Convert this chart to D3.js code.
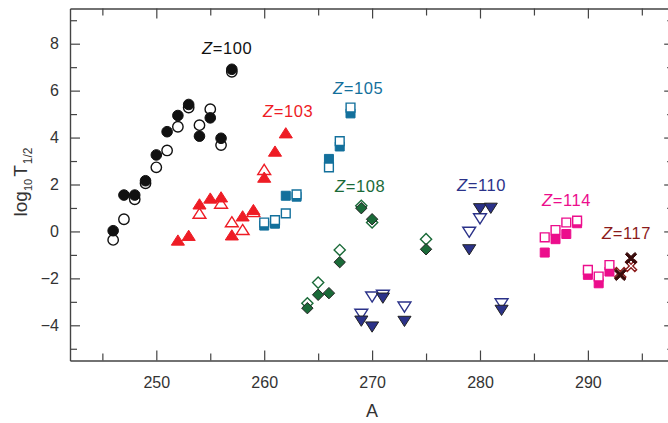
<!DOCTYPE html>
<html>
<head>
<meta charset="utf-8">
<script src="https://cdn.jsdelivr.net/npm/d3@7"></script>
<style>
  body { margin: 0; background: #fff; }
  text { font-family: "Liberation Sans", Arial, sans-serif; fill: #333; }
</style>
</head>
<body>
<svg id="chart" width="668" height="423"></svg>
<script>
// data: [A, log10 T1/2]
var z100Filled = [[246,0.03],[247,1.55],[248,1.55],[249,2.16],[250,3.26],[251,4.25],[252,4.94],[253,5.41],[254,4.06],[255,4.84],[256,3.97],[257,6.91]];
var z100Open = [[246,-0.36],[247,0.52],[248,1.37],[249,2.05],[250,2.73],[251,3.45],[252,4.46],[253,5.28],[254,4.53],[255,5.21],[256,3.68],[257,6.80]];

var z103Filled = [[252,-0.39],[253,-0.19],[254,1.15],[255,1.40],[256,1.45],[257,-0.17],[258,0.64],[259,0.91],[260,2.29],[261,3.40],[262,4.18]];
var z103Open = [[254,0.75],[256,1.18],[257,0.39],[258,0.06],[259,0.82],[260,2.62]];

var z105Filled = [[260,0.25],[261,0.33],[262,1.52],[263,1.48],[266,3.09],[267,3.62],[268,5.03]];
var z105Open = [[260,0.38],[261,0.48],[262,0.77],[263,1.58],[266,2.73],[267,3.85],[268,5.28]];

var z108Filled = [[264,-3.27],[265,-2.70],[266,-2.63],[267,-1.31],[269,0.99],[270,0.52],[275,-0.76]];
var z108Open = [[264,-3.06],[265,-2.18],[267,-0.79],[269,1.09],[270,0.38],[275,-0.33]];

var z110Filled = [[269,-3.80],[270,-4.05],[271,-2.82],[273,-3.81],[279,-0.76],[280,0.99],[281,1.01],[282,-3.34]];
var z110Open = [[269,-3.51],[270,-2.77],[271,-2.70],[273,-3.20],[279,-0.01],[280,0.56],[282,-3.06]];

var z114Filled = [[286,-0.90],[287,-0.33],[288,-0.11],[289,0.35],[290,-1.85],[291,-2.21],[292,-1.71]];
var z114Open = [[286,-0.25],[287,0.06],[288,0.38],[289,0.46],[290,-1.64],[291,-1.92],[292,-1.43]];

var z117Filled = [[293,-1.85],[294,-1.14]];
var z117Open = [[293,-1.78],[294,-1.47]];

var xMajor = [250, 260, 270, 280, 290];
var xMinor = [245, 255, 265, 275, 285, 295];
var yMajor = [-4, -2, 0, 2, 4, 6, 8];
var yMinor = [-5, -3, -1, 1, 3, 5, 7, 9];

var svg = d3.select("#chart");

var x = d3.scaleLinear().domain([242, 298]).range([70, 674.2]);
var y = d3.scaleLinear().domain([-5.5, 9.5]).range([360.5, 8.5]);

// frame with inward ticks on all four sides
function addAxis(axis, tx, ty, labels) {
    var g = svg.append("g")
        .attr("transform", "translate(" + tx + "," + ty + ")")
        .call(axis);
    g.selectAll("path, line").attr("stroke", "#444").attr("stroke-width", 1.2);
    g.selectAll("text").style("font-size", "16px").attr("fill", "#333");
    if (!labels) g.selectAll("text").remove();
    return g;
}
addAxis(d3.axisBottom(x).tickValues(xMajor).tickSize(-10).tickSizeOuter(0).tickPadding(16).tickFormat(d3.format("d")), 0, y(-5.5), true);
addAxis(d3.axisBottom(x).tickValues(xMinor).tickSize(-7).tickSizeOuter(0), 0, y(-5.5), false);
addAxis(d3.axisTop(x).tickValues(xMajor).tickSize(-10).tickSizeOuter(0), 0, y(9.5), false);
addAxis(d3.axisTop(x).tickValues(xMinor).tickSize(-7).tickSizeOuter(0), 0, y(9.5), false);
addAxis(d3.axisLeft(y).tickValues(yMajor).tickSize(-10).tickSizeOuter(0).tickPadding(11), x(242), 0, true);
addAxis(d3.axisLeft(y).tickValues(yMinor).tickSize(-7).tickSizeOuter(0), x(242), 0, false);
addAxis(d3.axisRight(y).tickValues(yMajor).tickSize(-10).tickSizeOuter(0), x(298), 0, false);
addAxis(d3.axisRight(y).tickValues(yMinor).tickSize(-7).tickSizeOuter(0), x(298), 0, false);

// axis titles
svg.append("text")
    .attr("x", x(270)).attr("y", 417)
    .attr("text-anchor", "middle")
    .style("font-size", "18px")
    .text("A");

var ylab = svg.append("text")
    .attr("transform", "translate(27,182) rotate(-90)")
    .attr("text-anchor", "middle")
    .style("font-size", "19px");
ylab.append("tspan").text("log");
ylab.append("tspan").attr("dy", 5).style("font-size", "11px").text("10");
ylab.append("tspan").attr("dy", -5).attr("dx", 2).text("T");
ylab.append("tspan").attr("dy", 5).attr("dx", 1).style("font-size", "12px").text("1/2");

// marker shapes
function circlePath(s) { return d3.symbol(d3.symbolCircle, Math.PI * s * s)(); }
function squarePath(s) { return "M" + -s + "," + -s + "H" + s + "V" + s + "H" + -s + "Z"; }
function triUp(s) { return "M0," + (-s) + "L" + (s * 1.15) + "," + (s * 0.8) + "L" + (-s * 1.15) + "," + (s * 0.8) + "Z"; }
function triDown(s) { return "M0," + s + "L" + (s * 1.15) + "," + (-s * 0.8) + "L" + (-s * 1.15) + "," + (-s * 0.8) + "Z"; }
function diamond(s) { return "M0," + (-s) + "L" + s + ",0L0," + s + "L" + (-s) + ",0Z"; }
function cross(s) {
    var w = s * 0.32;
    return "M" + (-s) + "," + (-s + w) + "L" + (-s + w) + "," + (-s) + "L0," + (-w) + "L" + (s - w) + "," + (-s) +
        "L" + s + "," + (-s + w) + "L" + w + ",0L" + s + "," + (s - w) + "L" + (s - w) + "," + s +
        "L0," + w + "L" + (-s + w) + "," + s + "L" + (-s) + "," + (s - w) + "L" + (-w) + ",0Z";
}

var series = [
    {filled: z100Filled, open: z100Open, shape: circlePath, size: 5.8, color: "#111", edge: "#111", openOnTop: false},
    {filled: z103Filled, open: z103Open, shape: triUp, size: 6.2, color: "#ee1c25", edge: "#ee1c25", openOnTop: false},
    {filled: z105Filled, open: z105Open, shape: squarePath, size: 5, color: "#13709c", edge: "#13709c", openOnTop: true},
    {filled: z108Filled, open: z108Open, shape: diamond, size: 6.2, color: "#1a6a38", edge: "#222", openColor: "#1a6a38", openOnTop: false},
    {filled: z110Filled, open: z110Open, shape: triDown, size: 6.2, color: "#2b3289", edge: "#222", openColor: "#2b3289", openOnTop: false},
    {filled: z114Filled, open: z114Open, shape: squarePath, size: 5, color: "#ec0d8c", edge: "#ec0d8c", openOnTop: true},
    {filled: z117Filled, open: z117Open, shape: cross, size: 6.2, color: "#3a0c0c", edge: "#3a0c0c", openColor: "#8b1b1b", openOnTop: false}
];

function drawOpen(s) {
    svg.append("g").selectAll("path")
        .data(s.open).enter().append("path")
        .attr("transform", function(d) { return "translate(" + x(d[0]) + "," + y(d[1]) + ")"; })
        .attr("d", s.shape(s.size - 0.6))
        .attr("fill", "#fff")
        .attr("stroke", s.openColor || s.color)
        .attr("stroke-width", 1.4);
}
function drawFilled(s) {
    svg.append("g").selectAll("path")
        .data(s.filled).enter().append("path")
        .attr("transform", function(d) { return "translate(" + x(d[0]) + "," + y(d[1]) + ")"; })
        .attr("d", s.shape(s.size - 0.5))
        .attr("fill", s.color)
        .attr("stroke", s.edge)
        .attr("stroke-width", 1);
}
series.forEach(function(s) {
    if (s.openOnTop) { drawFilled(s); drawOpen(s); }
    else { drawOpen(s); drawFilled(s); }
});

// series labels
var zLabels = [
    {z: "100", color: "#111", x: 202, y: 54},
    {z: "103", color: "#ee1c25", x: 263, y: 117},
    {z: "105", color: "#13709c", x: 333, y: 94},
    {z: "108", color: "#1a6a38", x: 335, y: 192},
    {z: "110", color: "#2b3289", x: 457, y: 191},
    {z: "114", color: "#ec0d8c", x: 542, y: 206},
    {z: "117", color: "#8b1b1b", x: 602, y: 239}
];
zLabels.forEach(function(l) {
    var t = svg.append("text")
        .attr("x", l.x).attr("y", l.y)
        .style("font-size", "16.5px")
        .style("letter-spacing", "0.6px")
        .style("fill", l.color);
    t.append("tspan").style("font-style", "italic").style("fill", l.color).text("Z");
    t.append("tspan").style("fill", l.color).text("=" + l.z);
});
</script>
</body>
</html>
